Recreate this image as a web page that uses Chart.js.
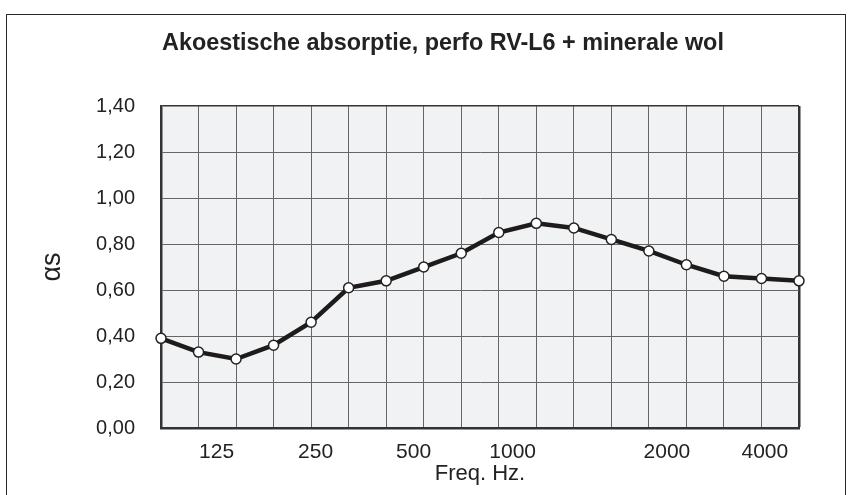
<!DOCTYPE html>
<html>
<head>
<meta charset="utf-8">
<script src="https://cdn.jsdelivr.net/npm/chart.js@4/dist/chart.umd.min.js"></script>
<style>
  html, body { margin: 0; padding: 0; background: #fff; }
  #wrap { position: relative; width: 858px; height: 495px; overflow: hidden; }
  #frame { position: absolute; left: 6px; top: 14px; width: 840px; height: 520px; border: 1.5px solid #2a2a2a; box-sizing: border-box; }
  canvas { position: absolute; left: 0; top: 0; }
</style>
</head>
<body>
<div id="wrap">
  <div id="frame"></div>
  <canvas id="c" width="858" height="495"></canvas>
</div>
<script>
// Third-octave band centre frequencies (Hz)
const categories = ['100','125','160','200','250','315','400','500','630','800','1000','1250','1600','2000','2500','3150','4000','5000'];
// Sound absorption coefficient alpha_s
const alphaValues = [0.39,0.33,0.30,0.36,0.46,0.61,0.64,0.70,0.76,0.85,0.89,0.87,0.82,0.77,0.71,0.66,0.65,0.64];
// Frequency labels printed under the axis and where they sit (in band index units)
const freqTickLabels = ['125','250','500','1000','2000','4000'];
const freqTickPositions = [1.48, 4.12, 6.73, 9.37, 13.48, 16.09];
// Y axis ticks
const yTicks = [0, 0.2, 0.4, 0.6, 0.8, 1.0, 1.2, 1.4];

const FONT = "'Liberation Sans', Arial, sans-serif";
const lastIndex = categories.length - 1;

const plotBg = {
  id: 'plotBg',
  beforeDraw(chart) {
    const {ctx, chartArea: a} = chart;
    ctx.save();
    ctx.fillStyle = '#f1f2f4';
    ctx.fillRect(a.left, a.top, a.right - a.left, a.bottom - a.top);
    ctx.restore();
  }
};

const points = alphaValues.map((v, i) => ({x: i, y: v}));

new Chart(document.getElementById('c'), {
  type: 'line',
  data: {
    datasets: [{
      data: points,
      xAxisID: 'x',
      yAxisID: 'y',
      borderColor: '#1e1b1b',
      borderWidth: 4.5,
      tension: 0,
      pointRadius: 5,
      pointBackgroundColor: '#ffffff',
      pointBorderColor: '#222',
      pointBorderWidth: 1.5,
      clip: false
    }]
  },
  options: {
    responsive: false,
    animation: false,
    devicePixelRatio: 1,
    layout: { padding: { left: 28, right: 0, top: 0, bottom: 0 } },
    plugins: {
      legend: { display: false },
      tooltip: { enabled: false },
      title: {
        display: true,
        text: 'Akoestische absorptie, perfo RV-L6 + minerale wol',
        color: '#222',
        font: { family: FONT, size: 23.4, weight: 'bold' },
        padding: { top: 30, bottom: 48 }
      }
    },
    scales: {
      x: {
        type: 'linear',
        min: 0,
        max: lastIndex,
        afterBuildTicks(scale) {
          scale.ticks = categories.map((c, i) => ({value: i}));
        },
        afterFit(scale) { scale.height = 0; },
        ticks: { display: false },
        grid: {
          drawTicks: false,
          color: (ctx) => ctx.index === lastIndex ? '#333' : '#666',
          lineWidth: (ctx) => ctx.index === lastIndex ? 2.5 : 1
        },
        border: { display: true, color: '#333', width: 2.5 }
      },
      xLabels: {
        type: 'linear',
        position: 'bottom',
        min: 0,
        max: lastIndex,
        afterBuildTicks(scale) {
          scale.ticks = freqTickPositions.map(v => ({value: v}));
        },
        afterFit(scale) { scale.height = 67; },
        ticks: {
          padding: 12,
          color: '#222',
          font: { family: FONT, size: 21 },
          autoSkip: false,
          maxRotation: 0,
          callback: (v) => {
            const k = freqTickPositions.indexOf(v);
            return k >= 0 ? freqTickLabels[k] : '';
          }
        },
        grid: { display: false, drawTicks: false },
        border: { display: false },
        title: {
          display: true,
          text: 'Freq. Hz.',
          color: '#222',
          font: { family: FONT, size: 22 },
          padding: { top: 0, bottom: 8 }
        }
      },
      y: {
        min: 0,
        max: 1.4,
        afterBuildTicks(scale) {
          scale.ticks = yTicks.map(v => ({value: v}));
        },
        afterFit(scale) { scale.width = 133; },
        ticks: {
          padding: 26,
          color: '#222',
          font: { family: FONT, size: 20 },
          callback: (v) => v.toFixed(2).replace('.', ',')
        },
        grid: {
          drawTicks: false,
          color: (ctx) => ctx.index === yTicks.length - 1 ? '#333' : '#666',
          lineWidth: (ctx) => ctx.index === yTicks.length - 1 ? 1.5 : 1
        },
        border: { display: true, color: '#333', width: 2.5 },
        title: {
          display: true,
          text: 'αs',
          color: '#222',
          font: { family: FONT, size: 27 },
          padding: { top: 8, bottom: 0 }
        }
      },
      yRight: {
        type: 'linear',
        position: 'right',
        min: 0,
        max: 1.4,
        afterFit(scale) { scale.width = 59; },
        ticks: { display: false },
        grid: { display: false, drawTicks: false },
        border: { display: false }
      }
    }
  },
  plugins: [plotBg]
});
</script>
</body>
</html>
